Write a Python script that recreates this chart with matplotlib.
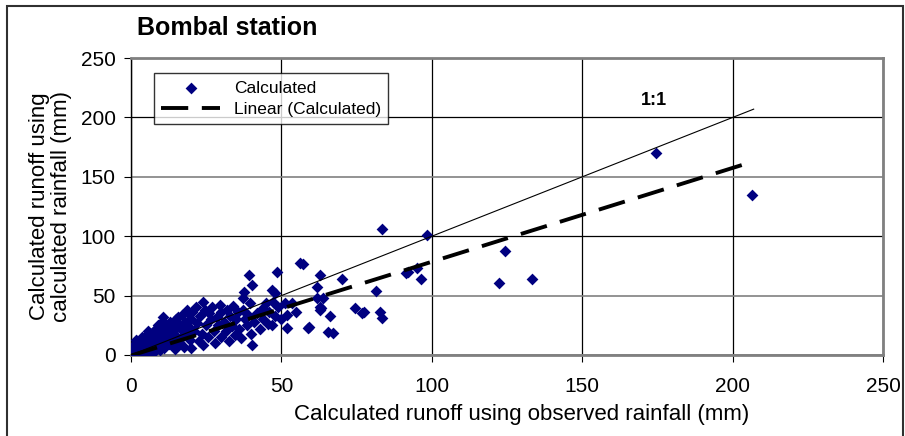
import matplotlib.pyplot as plt
import matplotlib.patches as patches
import numpy as np

plt.rcParams['font.family'] = ['Liberation Sans', 'DejaVu Sans']

# runoff from observed rainfall (x) vs runoff from calculated rainfall (y), mm
obs = [0.2, 0.5, 0.8, 1.0, 1.2, 1.5, 1.8, 2.0, 2.2, 2.5, 2.8, 3.0, 3.2, 3.5, 3.8,
       4.0, 4.2, 4.5, 4.8, 5.0, 0.3, 0.6, 1.0, 1.5, 2.0, 0.1, 0.4, 2.6, 3.6, 4.4,
       1.3, 2.3, 3.3, 4.3, 5.3, 0.7, 1.7, 2.7, 3.7, 4.7,
       5.5, 5.8, 6.0, 6.2, 6.5, 6.8, 7.0, 7.2, 7.5, 7.8, 8.0, 8.2, 8.5, 8.8, 9.0,
       9.2, 9.5, 9.8, 10.0, 10.0, 5.6, 6.6, 7.6, 8.6, 9.6,
       10.6, 10.5, 11.0, 11.5, 12.0, 12.5, 13.0, 13.2, 13.5, 14.0, 14.5, 15.0, 15.0, 15.6, 15.5,
       11.2, 12.2, 13.7, 14.8,
       16.0, 16.5, 17.0, 17.5, 18.0, 18.2, 18.6, 19.0, 19.0, 19.5, 20.0, 20.3, 20.0,
       16.8, 18.8,
       21.0, 21.5, 22.0, 22.5, 23.0, 23.5, 24.0, 24.0, 24.5, 25.0,
       25.5, 26.0, 26.5, 27.0, 27.5, 28.0, 28.5, 29.0, 29.5, 30.0, 30.0,
       31.0, 31.5, 32.0, 32.5, 33.0, 33.5, 34.0, 34.5, 35.0,
       35.5, 36.0, 36.5, 37.2, 37.6, 37.2, 38.0, 38.5, 39.0, 39.2, 40.2, 40.2, 40.0, 39.5,
       41.0, 42.0, 43.0, 43.9, 44.0, 45.0, 45.5, 46.0, 46.9, 47.0, 47.2, 48.0, 48.5, 48.0,
       49.0, 50.0, 51.2, 51.9, 51.9, 53.5, 55.0,
       56.2, 57.2, 58.8, 59.2, 61.8, 62.8, 62.8, 62.8, 61.8, 63.8, 63.2, 65.5, 66.0, 67.2, 70.0,
       74.5, 76.8, 77.5, 81.4, 82.8, 83.4, 83.4, 91.4, 92.0, 95.0, 96.4, 98.4,
       122.3, 124.3, 133.3, 174.5, 206.5]
calc = [0.3, 1.0, 0.4, 2.0, 0.8, 3.0, 1.2, 0.5, 4.0, 2.0, 6.0, 1.0, 3.5, 8.0, 2.5,
        5.0, 10.0, 1.5, 7.0, 3.0, 4.0, 6.0, 8.0, 10.0, 12.0, 0.1, 2.5, 9.0, 12.0, 14.0,
        5.5, 7.0, 5.0, 3.5, 8.0, 2.5, 13.0, 11.0, 15.0, 12.0,
        12.0, 5.0, 16.0, 9.0, 2.0, 18.0, 11.0, 6.0, 20.0, 14.0, 3.0, 22.0, 8.0, 16.0, 25.0,
        12.0, 4.0, 19.0, 10.0, 27.0, 20.0, 13.0, 17.0, 11.0, 22.0,
        32.0, 15.0, 6.0, 22.0, 18.0, 9.0, 28.0, 24.0, 13.0, 20.0, 5.0, 30.0, 16.0, 32.0, 26.0,
        26.0, 12.0, 9.0, 23.0,
        11.0, 22.0, 34.0, 7.0, 28.0, 18.0, 38.0, 35.0, 24.0, 13.0, 30.0, 36.0, 6.0,
        15.0, 20.0,
        20.0, 40.0, 27.0, 12.0, 33.0, 18.0, 44.6, 8.0, 38.0, 25.0,
        15.0, 35.0, 30.0, 40.0, 20.0, 10.0, 32.0, 25.0, 42.0, 15.0, 36.0,
        28.0, 20.0, 38.0, 12.0, 33.0, 24.0, 41.0, 17.0, 30.0,
        36.0, 22.0, 14.0, 48.0, 53.0, 38.0, 30.0, 25.0, 34.0, 67.0, 59.0, 8.4, 18.0, 44.0,
        28.0, 35.0, 22.0, 39.5, 30.0, 44.0, 26.0, 36.0, 25.0, 55.0, 44.6, 52.0, 70.0, 33.0,
        40.0, 30.0, 43.8, 33.7, 22.7, 43.8, 36.0,
        77.4, 76.6, 22.7, 23.5, 57.0, 67.0, 40.4, 38.0, 48.0, 48.0, 39.5, 19.0, 33.0, 18.5, 64.0,
        39.5, 35.0, 36.0, 54.0, 36.0, 31.0, 106.0, 69.0, 70.0, 73.0, 64.0, 101.0,
        60.6, 87.5, 64.0, 170.0, 134.7]

trend_slope = 0.79
trend_intercept = -0.5
line_x = [0, 207]

fig = plt.figure(figsize=(9.05, 4.36), dpi=100)
ax = fig.add_axes([0.1448, 0.1858, 0.8309, 0.681])

ax.scatter(obs, calc, marker='D', s=36, color='#000080', linewidths=0,
           zorder=3, label='Calculated')
lx = np.array(line_x)
ax.plot(lx, trend_slope * lx + trend_intercept, color='black', lw=2.8,
        dashes=(7, 3.5), zorder=4, label='Linear (Calculated)')
ax.plot(lx, lx, color='black', lw=0.8, zorder=4)
ax.text(174, 214, '1:1', fontsize=13, fontweight='bold', ha='center', va='center')

ax.set_xlim(0, 250)
ax.set_ylim(0, 250)
ax.set_xticks(range(0, 251, 50))
ax.set_yticks(range(0, 251, 50))
ax.grid(True, axis='x', color='black', lw=0.9, zorder=0)
ax.grid(True, axis='y', color='#808080', lw=1.2, zorder=0)
for i, gl in enumerate(ax.get_ygridlines()):
    if i in (2, 4):
        gl.set_color('black')
        gl.set_linewidth(0.9)
ax.set_axisbelow(True)

for s in ['top', 'right', 'bottom']:
    ax.spines[s].set_color('#808080')
    ax.spines[s].set_linewidth(2)
ax.spines['left'].set_color('black')
ax.spines['left'].set_linewidth(1)

ax.tick_params(axis='y', labelsize=15, length=5, pad=6, direction='out')
ax.tick_params(axis='x', labelsize=15, length=5, pad=11, direction='out')
ax.set_xlabel('Calculated runoff using observed rainfall (mm)', fontsize=16)
ax.xaxis.set_label_coords(0.52, -0.165)
ax.set_ylabel('Calculated runoff using\ncalculated rainfall (mm)', fontsize=16,
              labelpad=6, linespacing=1.1)

leg = ax.legend(loc='upper left', bbox_to_anchor=(0.026, 0.96), fontsize=12.5,
                frameon=True, fancybox=False, borderpad=0.4, handlelength=3.4,
                labelspacing=0.35, handletextpad=0.8, borderaxespad=0.2)
leg.get_frame().set_edgecolor('black')
leg.get_frame().set_linewidth(1)

fig.text(137 / 905, 1 - 28 / 436, 'Bombal station', fontsize=18, fontweight='bold',
         ha='left', va='center')

border = patches.Rectangle((7 / 905, -0.05), 896 / 905, 1.05 - 6 / 436,
                           transform=fig.transFigure, fill=False,
                           edgecolor='#303030', lw=1.5, clip_on=False)
fig.patches.append(border)

fig.savefig('out.png', dpi=100)
